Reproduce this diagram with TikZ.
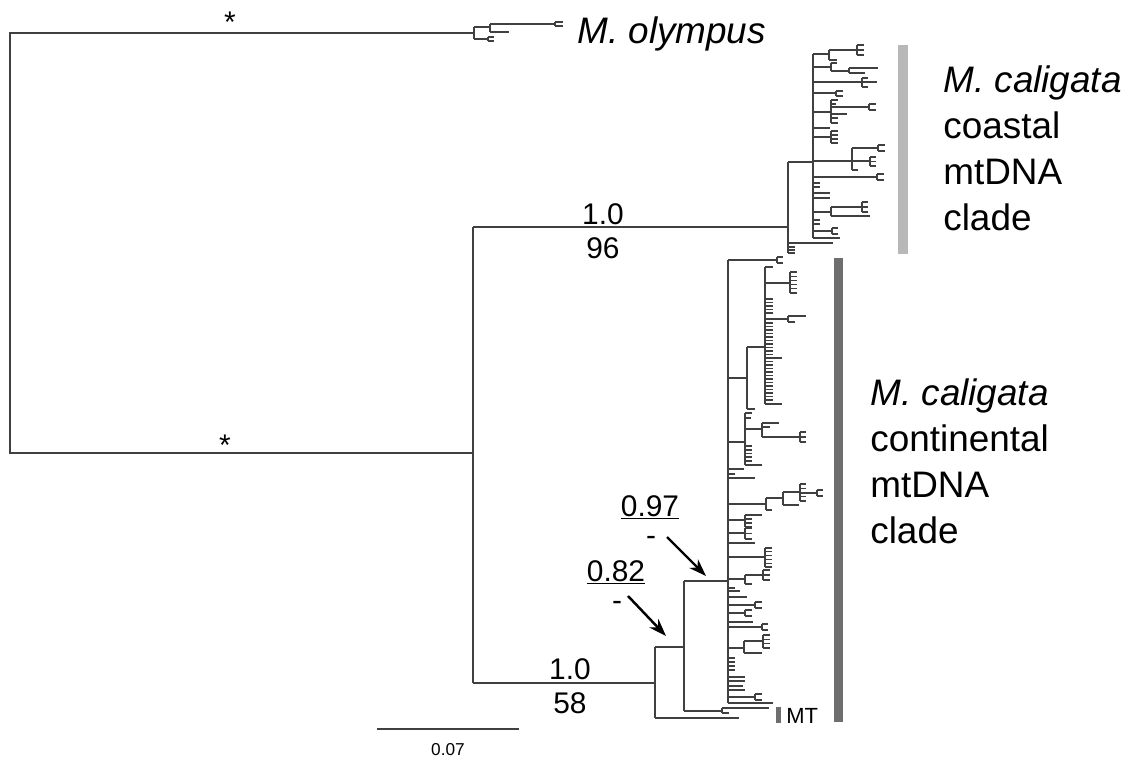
\documentclass[tikz,border=0pt]{standalone}
\usepackage{fontspec}
\setmainfont{Liberation Sans}
\usetikzlibrary{arrows.meta}
\definecolor{treecol}{HTML}{404040}
\definecolor{lightbar}{HTML}{B8B8B8}
\definecolor{darkbar}{HTML}{6E6E6E}
\newcommand\tcomb[5]{%
  \draw[tree] (#1,#2) -- (#1,#3);
  \foreach \k in {1,...,#4}{%
    \pgfmathsetmacro\yy{#2+(#3-#2)*(\k-1)/(#4-1)}
    \draw[tree] (#1,\yy) -- ({#1+#5},\yy);
  }%
}
\newcommand\tticks[3]{% x, length, list of y
  \foreach \yy in {#3}{\draw[tree] (#1,\yy) -- ({#1+#2},\yy);}%
}
\begin{document}
\begin{tikzpicture}[x=0.02cm,y=-0.02cm,
  tree/.style={draw=treecol,line width=0.75pt},
  bigtxt/.style={font=\fontsize{21}{24}\selectfont,anchor=base west,inner sep=0pt},
  numtxt/.style={font=\fontsize{17}{19}\selectfont,anchor=base,inner sep=0pt},
  smalltxt/.style={font=\fontsize{12.5}{14}\selectfont,inner sep=0pt},
  startxt/.style={font=\fontsize{17}{19}\selectfont,inner sep=0pt,anchor=center},
  arr/.style={draw=black,line width=1.4pt,-{Stealth[length=10pt,width=7pt]}}]
\useasboundingbox (0,0) rectangle (1134,761);
% ---------- root ----------
\draw[tree] (473,33) -- (10,33) -- (10,453) -- (473,453);
% ---------- M. olympus ----------
\draw[tree] (474,27) -- (474,39);
\draw[tree] (473,33) -- (474,33);
\draw[tree] (474,27) -- (490,27);
\draw[tree] (490,24) -- (490,32);
\draw[tree] (490,24) -- (555,24);
\tcomb{555}{22}{26}{2}{8}
\draw[tree] (490,32) -- (509,32);
\draw[tree] (474,39) -- (488,39);
\tcomb{488}{37}{41}{2}{6}
% ---------- ingroup ----------
\draw[tree] (473,227) -- (473,683);
\draw[tree] (473,227) -- (788,227);
\draw[tree] (473,683) -- (655,683);
% ---------- coastal ----------
\draw[tree] (788,162) -- (788,253);
\draw[tree] (788,162) -- (813,162);
\draw[tree] (788,243) -- (833,243);
\tticks{788}{7}{247,250,253}
\draw[tree] (813,54) -- (813,238);
\draw[tree] (813,54) -- (829,54);
\draw[tree] (829,50) -- (829,60);
\draw[tree] (829,50) -- (857,50);
\tcomb{857}{45}{55}{3}{7}
\draw[tree] (829,60) -- (837,60);
\draw[tree] (813,67) -- (831,67);
\draw[tree] (831,63) -- (831,71);
\draw[tree] (831,63) -- (837,63);
\draw[tree] (831,71) -- (849,71);
\draw[tree] (849,68) -- (849,73);
\draw[tree] (849,68) -- (878,68);
\draw[tree] (849,73) -- (865,73);
\draw[tree] (813,82) -- (877,82);
\tcomb{862}{78}{87}{3}{6}
\draw[tree] (813,93) -- (836,93);
\tcomb{836}{91}{96}{2}{7}
\draw[tree] (813,112) -- (831,112);
\draw[tree] (831,100) -- (831,123);
\tticks{831}{7}{100,118,123}
\draw[tree] (831,104) -- (836,104);
\draw[tree] (831,107) -- (869,107);
\tcomb{869}{104}{110}{2}{7}
\draw[tree] (831,114) -- (847,114);
\draw[tree] (813,128) -- (830,128);
\draw[tree] (813,137) -- (831,137);
\tcomb{831}{131}{143}{4}{7}
\draw[tree] (813,161) -- (852,161);
\draw[tree] (852,148) -- (852,170);
\draw[tree] (852,148) -- (878,148);
\tcomb{878}{145}{151}{2}{7}
\draw[tree] (852,161) -- (870,161);
\tcomb{870}{157}{166}{3}{6}
\draw[tree] (852,170) -- (858,170);
\draw[tree] (813,177) -- (877,177);
\tcomb{877}{174}{180}{2}{7}
\tticks{813}{7}{183,187,220,224}
\tticks{813}{17}{193,198}
\draw[tree] (813,212) -- (831,212);
\draw[tree] (831,207) -- (831,216);
\draw[tree] (831,207) -- (862,207);
\tcomb{862}{202}{212}{3}{6}
\draw[tree] (831,216) -- (870,216);
\draw[tree] (813,231) -- (832,231);
\tcomb{832}{228}{234}{2}{6}
\draw[tree] (813,238) -- (840,238);
% ---------- continental ----------
\draw[tree] (655,647) -- (655,718);
\draw[tree] (655,647) -- (684,647);
\draw[tree] (655,718) -- (739,718);
\draw[tree] (684,581) -- (684,711);
\draw[tree] (684,581) -- (728,581);
\draw[tree] (684,711) -- (722,711);
\draw[tree] (722,708) -- (722,713);
\draw[tree] (722,708) -- (769,708);
\draw[tree] (722,713) -- (729,713);
\draw[tree] (728,260) -- (728,703);
\draw[tree] (728,260) -- (777,260);
\tcomb{777}{257}{263}{2}{6}
\draw[tree] (728,378) -- (747,378);
\draw[tree] (747,347) -- (747,409);
\draw[tree] (747,347) -- (765,347);
\draw[tree] (747,409) -- (755,409);
\draw[tree] (765,267) -- (765,404);
\draw[tree] (765,267) -- (773,267);
\draw[tree] (765,283) -- (790,283);
\tcomb{790}{272}{293}{6}{7}
\tticks{765}{8}{299,302.5,306,309.5,313,323,326.5,330,333.5,337,340.5,344,347.5,351,354.5,361.5,365,368.5,372,375.5,379,382.5,386,389.5,393,396.5,400}
\draw[tree] (765,319) -- (788,319);
\draw[tree] (788,316) -- (788,322);
\draw[tree] (788,316) -- (806,316);
\draw[tree] (788,322) -- (795,322);
\draw[tree] (765,358) -- (782,358);
\draw[tree] (765,404) -- (782,404);
\draw[tree] (728,442) -- (745,442);
\draw[tree] (745,413) -- (745,465);
\draw[tree] (745,413) -- (752,413);
\draw[tree] (745,418) -- (751,418);
\draw[tree] (745,429) -- (762,429);
\draw[tree] (762,423) -- (762,437);
\draw[tree] (762,423) -- (779,423);
\draw[tree] (762,427) -- (770,427);
\draw[tree] (762,437) -- (800,437);
\tcomb{800}{432}{442}{3}{6}
\tticks{745}{7}{446,450,453.5,457,461}
\draw[tree] (745,465) -- (762,465);
\draw[tree] (728,469) -- (744,469);
\draw[tree] (728,474) -- (735,474);
\draw[tree] (728,478) -- (755,478);
\draw[tree] (728,504) -- (766,504);
\draw[tree] (766,498) -- (766,510);
\draw[tree] (766,498) -- (783,498);
\draw[tree] (783,492) -- (783,505);
\draw[tree] (783,492) -- (800,492);
\tcomb{800}{484}{501}{5}{6}
\draw[tree] (800,493) -- (817,493);
\tcomb{817}{490}{496}{2}{6}
\draw[tree] (783,505) -- (799,505);
\draw[tree] (766,510) -- (772,510);
\draw[tree] (728,520) -- (745,520);
\tcomb{745}{515}{527}{4}{7}
\draw[tree] (745,515) -- (762,515);
\draw[tree] (728,533) -- (745,533);
\tcomb{745}{528}{539}{3}{7}
\draw[tree] (728,543) -- (755,543);
\draw[tree] (728,557) -- (765,557);
\tcomb{765}{548}{567}{6}{7}
\draw[tree] (728,579) -- (745,579);
\draw[tree] (745,575) -- (745,584);
\draw[tree] (745,575) -- (763,575);
\tcomb{763}{570}{580}{3}{7}
\draw[tree] (745,584) -- (752,584);
\draw[tree] (728,588) -- (735,588);
\draw[tree] (728,591) -- (740,591);
\draw[tree] (728,597) -- (747,597);
\draw[tree] (728,605) -- (755,605);
\tcomb{755}{602}{608}{2}{7}
\draw[tree] (728,613) -- (745,613);
\tcomb{745}{610}{616}{2}{7}
\draw[tree] (728,622) -- (753,622);
\draw[tree] (728,627) -- (762,627);
\tcomb{762}{624}{630}{2}{6}
\draw[tree] (728,648) -- (744,648);
\draw[tree] (744,641) -- (744,653);
\draw[tree] (744,641) -- (763,641);
\tcomb{763}{635}{648}{4}{7}
\draw[tree] (744,653) -- (762,653);
\tticks{728}{7}{658,662,666,670}
\tticks{728}{17}{677,681,690}
\draw[tree] (728,686) -- (743,686);
\draw[tree] (728,697) -- (755,697);
\tcomb{755}{694}{700}{2}{7}
\draw[tree] (728,703) -- (773,703);
% ---------- bars ----------
\fill[lightbar] (898,45) rectangle (908,254);
\fill[darkbar] (834,258) rectangle (843,722);
\fill[darkbar] (776,707) rectangle (781,723);
% ---------- scale bar ----------
\coordinate (sbl) at (377,729);
\coordinate (sbr) at (519,729);
\draw[tree] (sbl) -- (sbr);
\node[smalltxt,font=\fontsize{9.8}{11}\selectfont,anchor=base] (sblab) at (448,755) {0.07};
% ---------- labels ----------
\node[bigtxt] (olym) at (577,43) {\itshape M. olympus};
\node[bigtxt] (coa1) at (943,92) {\itshape M. caligata};
\node[bigtxt] (coa2) at (943,138) {coastal};
\node[bigtxt] (coa3) at (943,184) {mtDNA};
\node[bigtxt] (coa4) at (943,230) {clade};
\node[bigtxt] (con1) at (870,405) {\itshape M. caligata};
\node[bigtxt] (con2) at (870,451) {continental};
\node[bigtxt] (con3) at (870,497) {mtDNA};
\node[bigtxt] (con4) at (870,543) {clade};
\node[smalltxt,anchor=base west] (mt) at (786,723) {MT};
\node[startxt] (st1) at (230,22) {*};
\node[startxt] (st2) at (225,445) {*};
\node[numtxt] (s96a) at (603,224) {1.0};
\node[numtxt] (s96b) at (603,258) {96};
\node[numtxt] (s58a) at (570,679) {1.0};
\node[numtxt] (s58b) at (570,713) {58};
\node[numtxt] (p97) at (650,516) {\underline{0.97}};
\node[numtxt,anchor=center] (d97) at (651,541) {-};
\node[numtxt] (p82) at (616,581) {\underline{0.82}};
\node[numtxt,anchor=center] (d82) at (617,606) {-};
\coordinate (a97s) at (667,537);
\coordinate (a97e) at (706,576);
\coordinate (a82s) at (628,596);
\coordinate (a82e) at (666,636);
\draw[arr] (a97s) -- (a97e);
\draw[arr] (a82s) -- (a82e);
\end{tikzpicture}
\end{document}
